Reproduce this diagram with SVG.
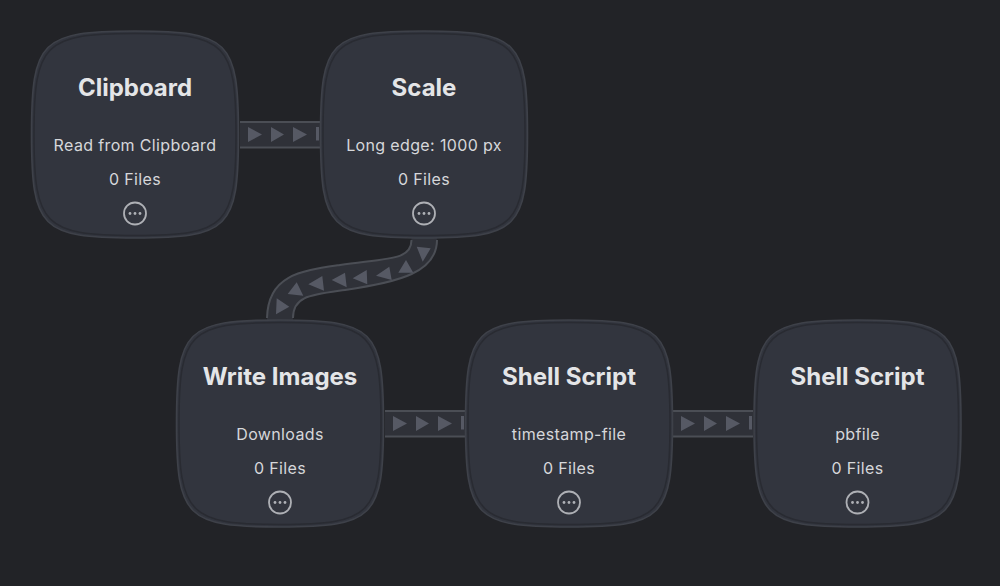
<svg xmlns="http://www.w3.org/2000/svg" width="1000" height="586" viewBox="0 0 1000 586">
<style>
.card{fill:#32353e;stroke:#3e4149;stroke-width:1.600}
.inner{fill:none;stroke:#292b32;stroke-width:1.500}
.title{font:700 24px Inter,"Liberation Sans",sans-serif;fill:#e4e5e7;text-anchor:middle}
.sub{font:400 16px Inter,"Liberation Sans",sans-serif;letter-spacing:.36px;fill:#d6d7da;text-anchor:middle}
.more{fill:none;stroke:#aeb0b5;stroke-width:1.800}
.dot{fill:#aeb0b5}
.band{fill:#2f3138}
.edge{fill:none;stroke:#4b4e55;stroke-width:2}
.tri{fill:#565964}
</style>
<defs>
<path id="sq" d="M0-103.500C94-103.500 103.500-94 103.500 0C103.500 94 94 103.500 0 103.500C-94 103.500-103.500 94-103.500 0C-103.500-94-94-103.500 0-103.500Z"/>
<path id="sqi" d="M0-101C91-101 101-91 101 0C101 91 91 101 0 101C-91 101-101 91-101 0C-101-91-91-101 0-101Z"/>
<g id="more"><circle class="more" r="11" cy="79"/><circle class="dot" cx="-5" cy="79" r="1.400"/><circle class="dot" cy="79" r="1.400"/><circle class="dot" cx="5" cy="79" r="1.400"/></g>
<g id="flow">
<rect class="band" x="0" y="-13" width="80" height="26"/>
<path class="edge" d="M0-12.500H80M0 13H80"/>
<path class="tri" d="M8-7.500L22 0 8 7.500ZM31-7.500L44 0 31 7.500ZM53-7.500L67 0 53 7.500ZM76-7.500H79V6H76Z"/>
</g>
</defs>
<rect width="1000" height="586" fill="#222327"/>
<g id="connectors">
<use href="#flow" x="240" y="134.500"/>
<use href="#flow" x="385" y="423.500"/>
<use href="#flow" x="673" y="423.500"/>
<path class="band" d="M411.500 238C411.500 260 390 258 340 265C300 271 268 275 267 320H293C293 296 310 295 345 290C400 282 437 272 437 238Z"/>
<path class="edge" d="M411.500 240C411.500 260 390 258 340 265C300 271 268 275 267 318M437 240C437 272 400 282 345 290C310 295 293 296 293 318"/>
<path class="tri" d="M416.700 246.700L430.700 248.300 422.700 261.700ZM406 260L398.300 272.700H413.300ZM389.300 266.700L391.700 280 376 275.700ZM366.700 270L367.300 284.300 352.700 278.300ZM345 272.700L346.700 287.300 331.700 280ZM322.300 276L324 290.700 308.300 284.300ZM296.700 282.300L303.300 295.700 287.700 294ZM276.700 298.300L289.300 306.700 276 314.300Z"/>
</g>
<g id="node-clipboard" transform="translate(135 134.500)"><use href="#sq" class="card"/><use href="#sqi" class="inner"/><text class="title" y="-38.500">Clipboard</text><text class="sub" y="16">Read from Clipboard</text><text class="sub" y="50">0 Files</text><use href="#more"/></g>
<g id="node-scale" transform="translate(424 134.500)"><use href="#sq" class="card"/><use href="#sqi" class="inner"/><text class="title" y="-38.500">Scale</text><text class="sub" y="16">Long edge: 1000 px</text><text class="sub" y="50">0 Files</text><use href="#more"/></g>
<g id="node-write" transform="translate(280 423.500)"><use href="#sq" class="card"/><use href="#sqi" class="inner"/><text class="title" y="-38.500">Write Images</text><text class="sub" y="16">Downloads</text><text class="sub" y="50">0 Files</text><use href="#more"/></g>
<g id="node-shell1" transform="translate(569 423.500)"><use href="#sq" class="card"/><use href="#sqi" class="inner"/><text class="title" y="-38.500">Shell Script</text><text class="sub" y="16">timestamp-file</text><text class="sub" y="50">0 Files</text><use href="#more"/></g>
<g id="node-shell2" transform="translate(857.500 423.500)"><use href="#sq" class="card"/><use href="#sqi" class="inner"/><text class="title" y="-38.500">Shell Script</text><text class="sub" y="16">pbfile</text><text class="sub" y="50">0 Files</text><use href="#more"/></g>
</svg>
